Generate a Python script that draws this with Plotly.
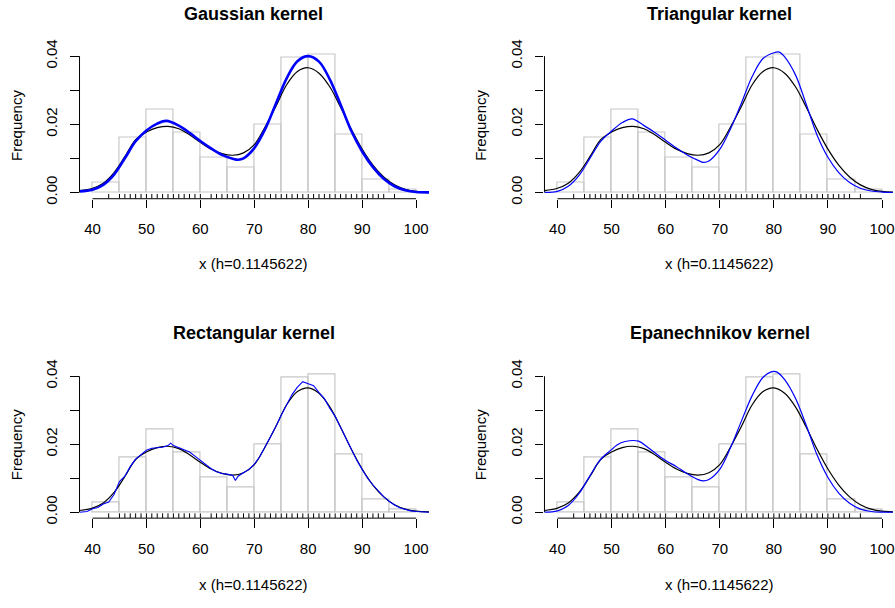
import plotly.graph_objects as go

# ---------------- data ----------------
breaks = [40, 45, 50, 55, 60, 65, 70, 75, 80, 85, 90, 95, 100]
hist_density = [0.0029, 0.0162, 0.0243, 0.0176, 0.0103, 0.0074, 0.0199,
                0.0397, 0.0404, 0.0169, 0.0037, 0.0007]

rug_values = [43, 45, 46, 47, 48, 49, 50, 51, 52, 53, 54, 55, 56, 57, 58, 59, 60,
              62, 63, 64, 65, 66, 67, 68, 69, 70, 71, 72, 73, 74, 75, 76, 77, 78,
              79, 80, 81, 82, 83, 84, 85, 86, 87, 88, 89, 90, 91, 92, 93, 94, 96]

x_ticks = [40, 50, 60, 70, 80, 90, 100]
y_ticks = [0.0, 0.01, 0.02, 0.03, 0.04]
y_ticktext = ["0.00", "", "0.02", "", "0.04"]

# reference density (black) - same in all panels
black_x = [37.6, 40, 42, 44, 46, 48, 50, 52, 54, 56, 58, 60, 62, 64, 66, 68, 70,
           72, 74, 76, 78, 80, 82, 84, 86, 88, 90, 92, 94, 96, 98, 100, 102.4]
black_y = [0.0005, 0.0012, 0.0027, 0.0058, 0.0105, 0.0155, 0.0177, 0.0190, 0.0194,
           0.0187, 0.0169, 0.0147, 0.0127, 0.0114, 0.0109, 0.0116, 0.0140, 0.0192,
           0.0252, 0.0316, 0.0355, 0.0366, 0.0350, 0.0310, 0.0250, 0.0185, 0.0127,
           0.0080, 0.0045, 0.0022, 0.0009, 0.0003, 0.0001]

gauss_x = [37.6, 40, 42, 44, 46, 48, 50, 52, 53.7, 56, 58, 60, 62, 64, 66, 67, 68,
           70, 72, 74, 76, 78, 80, 82, 84, 86, 88, 90, 92, 94, 96, 98, 100, 102.4]
gauss_y = [0.0003, 0.0008, 0.0022, 0.0052, 0.0100, 0.0150, 0.0182, 0.0202, 0.0210,
           0.0196, 0.0175, 0.0151, 0.0129, 0.0110, 0.0099, 0.0096, 0.0100, 0.0130,
           0.0185, 0.0260, 0.0335, 0.0385, 0.0400, 0.0384, 0.0332, 0.0258, 0.0180,
           0.0120, 0.0074, 0.0040, 0.0018, 0.0006, 0.0001, 0.0000]

tri_x = [37.6, 40, 42, 44, 46, 48, 50, 52, 53.8, 56, 58, 60, 62, 64, 66, 67, 68,
         70, 72, 74, 76, 78, 80, 81, 82, 84, 86, 88, 90, 92, 94, 96, 98, 100, 102.4]
tri_y = [0.0000, 0.0003, 0.0018, 0.0050, 0.0100, 0.0150, 0.0180, 0.0205, 0.0216,
         0.0196, 0.0176, 0.0153, 0.0130, 0.0110, 0.0094, 0.0088, 0.0092, 0.0126,
         0.0187, 0.0262, 0.0340, 0.0393, 0.0410, 0.0412, 0.0398, 0.0345, 0.0258,
         0.0168, 0.0103, 0.0058, 0.0029, 0.0012, 0.0004, 0.0001, 0.0000]

rect_x = [37.6, 39, 40, 41, 42, 43, 44, 45, 46, 47, 48, 49, 50, 51, 52, 53, 54,
          54.5, 55, 56, 57, 58, 59, 60, 61, 62, 63, 64, 65, 66, 66.5, 67, 68, 69,
          70, 71, 72, 73, 74, 75, 76, 77, 78, 79, 80, 81, 82, 83, 84, 85, 86, 87,
          88, 89, 90, 91, 92, 93, 94, 95, 96, 97, 98, 99, 100, 101, 102.4]
rect_y = [0.0000, 0.0002, 0.0010, 0.0014, 0.0024, 0.0030, 0.0052, 0.0090, 0.0106,
          0.0134, 0.0156, 0.0168, 0.0182, 0.0188, 0.0190, 0.0191, 0.0196, 0.0203,
          0.0196, 0.0190, 0.0185, 0.0177, 0.0165, 0.0152, 0.0140, 0.0128, 0.0119,
          0.0114, 0.0112, 0.0108, 0.0093, 0.0106, 0.0116, 0.0126, 0.0141, 0.0163,
          0.0192, 0.0220, 0.0252, 0.0285, 0.0318, 0.0346, 0.0368, 0.0384, 0.0378,
          0.0372, 0.0352, 0.0334, 0.0306, 0.0282, 0.0250, 0.0218, 0.0186, 0.0153,
          0.0126, 0.0100, 0.0080, 0.0062, 0.0046, 0.0032, 0.0021, 0.0013, 0.0008,
          0.0004, 0.0002, 0.0001, 0.0000]

epan_x = [37.6, 40, 42, 44, 46, 48, 50, 51, 52.5, 55, 56.5, 58, 60, 62, 64, 66, 67,
          68, 70, 72, 74, 76, 78, 79.5, 80.5, 82, 84, 86, 88, 90, 92, 94, 96, 98,
          100, 102.4]
epan_y = [0.0000, 0.0004, 0.0020, 0.0055, 0.0107, 0.0156, 0.0184, 0.0198, 0.0208,
          0.0209, 0.0193, 0.0175, 0.0152, 0.0134, 0.0113, 0.0096, 0.0092, 0.0096,
          0.0126, 0.0190, 0.0268, 0.0343, 0.0397, 0.0413, 0.0413, 0.0390, 0.0335,
          0.0255, 0.0168, 0.0102, 0.0056, 0.0026, 0.0009, 0.0002, 0.0000, 0.0000]

titles = ["Gaussian kernel", "Triangular kernel", "Rectangular kernel",
          "Epanechnikov kernel"]
xlab = "x (h=0.1145622)"
ylab = "Frequency"

# ---------------- layout geometry (pixels) ----------------
W, H = 895, 608
FONT = "Liberation Sans, Arial, Helvetica, sans-serif"
HIST_COL = "#c8c8c8"
BLUE = "#0000ff"

# per panel: (px of x=40, px of x=100, left px, right px,
#             px of y=0, px of y=0.04, bottom px, top px)
panels = [
    (92.7, 417.0, 79.7, 430.3, 194.3, 56.7, 200.7, 40.0),
    (558.7, 884.0, 545.7, 895.0, 194.3, 56.7, 200.7, 40.0),
    (92.7, 417.0, 79.7, 430.3, 517.3, 380.0, 523.3, 363.0),
    (558.7, 884.0, 545.7, 895.0, 517.3, 380.0, 523.3, 363.0),
]
blue_curves = [(gauss_x, gauss_y, 2.6, "spline"), (tri_x, tri_y, 1.2, "spline"),
               (rect_x, rect_y, 1.1, "linear"), (epan_x, epan_y, 1.2, "spline")]
title_pos = [(254.5, 14.0), (721.5, 14.0), (254.5, 336.5), (721.5, 336.5)]
xlab_pos = [(254.5, 266.5), (721.5, 266.5), (254.5, 590.5), (721.5, 590.5)]
ylab_pos = [(16.5, 126.7), (481.5, 126.7), (16.5, 449.2), (481.5, 449.2)]

fig = go.Figure()
shapes, annotations = [], []
centers = [(breaks[i] + breaks[i + 1]) / 2 for i in range(len(breaks) - 1)]
widths = [breaks[i + 1] - breaks[i] for i in range(len(breaks) - 1)]

for k, p in enumerate(panels):
    x40, x100, lpx, rpx, y0px, y4px, bpx, tpx = p
    sx = (x100 - x40) / 60.0
    sy = (y0px - y4px) / 0.04
    xr = [40 + (lpx - x40) / sx, 40 + (rpx - x40) / sx]
    yr = [(y0px - bpx) / sy, (y0px - tpx) / sy]
    n = "" if k == 0 else str(k + 1)
    xa, ya = "x" + n, "y" + n

    fig.add_trace(go.Bar(x=centers, y=hist_density, width=widths, xaxis=xa, yaxis=ya,
                         marker=dict(color="rgba(255,255,255,0)",
                                     line=dict(color=HIST_COL, width=1.2)),
                         showlegend=False, hoverinfo="skip"))
    fig.add_trace(go.Scatter(x=black_x, y=black_y, mode="lines", xaxis=xa, yaxis=ya,
                             line=dict(color="black", width=1.2, shape="spline",
                                       smoothing=1.0),
                             showlegend=False))
    bx, by, bw, bshape = blue_curves[k]
    fig.add_trace(go.Scatter(x=bx, y=by, mode="lines", xaxis=xa, yaxis=ya,
                             line=dict(color=BLUE, width=bw, shape=bshape,
                                       smoothing=1.0),
                             showlegend=False))
    # rug
    rug_len = 0.03 * (yr[1] - yr[0])
    rx, ry = [], []
    for v in rug_values:
        rx += [v, v, None]
        ry += [yr[0], yr[0] + rug_len, None]
    fig.add_trace(go.Scatter(x=rx, y=ry, mode="lines", xaxis=xa, yaxis=ya,
                             line=dict(color="black", width=1), cliponaxis=False,
                             showlegend=False, hoverinfo="skip"))

    dom_x = [lpx / W, min(rpx / W, 1.0)]
    dom_y = [1 - bpx / H, 1 - tpx / H]
    axis_common = dict(showgrid=False, zeroline=False, showline=False,
                       ticks="outside", ticklen=8.5, tickwidth=1, tickcolor="black",
                       tickfont=dict(family=FONT, size=15, color="black"),
                       ticklabeloverflow="allow", fixedrange=True)
    fig.update_layout(**{
        ("xaxis" + n): dict(domain=dom_x, range=xr, tickvals=x_ticks,
                            anchor=ya, ticklabelstandoff=8, **axis_common),
        ("yaxis" + n): dict(domain=dom_y, range=yr, tickvals=y_ticks,
                            ticktext=y_ticktext, tickangle=-90, anchor=xa,
                            ticklabelstandoff=7, **axis_common),
    })
    # axis lines spanning the tick range only (as R draws them)
    shapes.append(dict(type="line", xref=xa, yref=ya + " domain",
                       x0=x_ticks[0], x1=x_ticks[-1], y0=0, y1=0,
                       line=dict(color="black", width=1)))
    shapes.append(dict(type="line", xref=xa + " domain", yref=ya,
                       x0=0, x1=0, y0=y_ticks[0], y1=y_ticks[-1],
                       line=dict(color="black", width=1)))

    tx, ty = title_pos[k]
    annotations.append(dict(text="<b>" + titles[k] + "</b>", x=tx / W, y=1 - ty / H,
                            xref="paper", yref="paper", showarrow=False,
                            xanchor="center", yanchor="middle",
                            font=dict(family=FONT, size=18, color="black")))
    lx, ly = xlab_pos[k]
    annotations.append(dict(text=xlab, x=lx / W, y=1 - ly / H, xref="paper",
                            yref="paper", showarrow=False, xanchor="center",
                            yanchor="middle",
                            font=dict(family=FONT, size=15, color="black")))
    qx, qy = ylab_pos[k]
    annotations.append(dict(text=ylab, x=qx / W, y=1 - qy / H, xref="paper",
                            yref="paper", showarrow=False, textangle=-90,
                            xanchor="center", yanchor="middle",
                            font=dict(family=FONT, size=15, color="black")))

fig.update_layout(width=W, height=H, margin=dict(l=0, r=0, t=0, b=0),
                  paper_bgcolor="white", plot_bgcolor="white", bargap=0,
                  barmode="overlay", shapes=shapes, annotations=annotations,
                  showlegend=False)

fig.write_html("out.html")
